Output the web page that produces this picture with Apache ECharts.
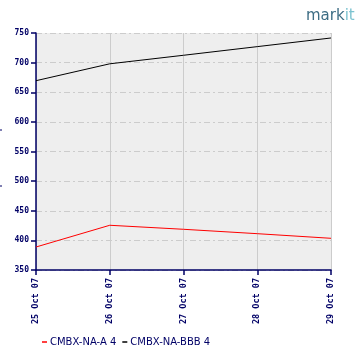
<!DOCTYPE html>
<html><head><meta charset="utf-8">
<script src="https://cdn.jsdelivr.net/npm/echarts@6/dist/echarts.min.js"></script>
<style>html,body{margin:0;padding:0;background:#fff}#c{width:360px;height:360px}</style>
</head><body><div id="c"></div>
<script>
const categories = ['25 Oct 07','26 Oct 07','27 Oct 07','28 Oct 07','29 Oct 07'];
const seriesA = [388.8, 425.5, 418.7, 411.3, 403.5];
const seriesBBB = [669.5, 698, 712.4, 727, 741.6];
const seriesNames = ['CMBX-NA-A 4', 'CMBX-NA-BBB 4'];
const yTicks = {min: 350, max: 750, interval: 50};

const navy = '#000066';
const chart = echarts.init(document.getElementById('c'), null, {renderer: 'canvas'});
chart.setOption({
  animation: false,
  backgroundColor: '#ffffff',
  grid: {left: 36, right: 29, top: 33, bottom: 90, show: true, backgroundColor: '#eeeeee', borderWidth: 0},
  legend: {
    bottom: 8, left: 37,
    icon: 'rect', itemWidth: 5, itemHeight: 1.5, itemGap: 6,
    textStyle: {color: navy, fontFamily: 'DejaVu Sans', fontSize: 10, padding: [0,0,0,-2]},
    data: seriesNames
  },
  graphic: [
    {type: 'text', left: 306, top: 9, style: {
      text: '{a|mark}{b|it}',
      rich: {a: {fill: '#3d6d84', font: '15px "DejaVu Sans"'}, b: {fill: '#7cc3d0', font: '15px "DejaVu Sans"'}}
    }},
    {type: 'line', shape: {x1: 0, y1: 130, x2: 2, y2: 130}, style: {stroke: navy, lineWidth: 1}},
    {type: 'line', shape: {x1: 0, y1: 186, x2: 2, y2: 186}, style: {stroke: navy, lineWidth: 1}}
  ],
  xAxis: {
    type: 'category', data: categories, boundaryGap: false,
    axisLine: {lineStyle: {color: navy, width: 1.5}},
    axisTick: {length: 5, lineStyle: {color: navy, width: 1.5}},
    axisLabel: {rotate: 90, color: navy, fontFamily: 'DejaVu Sans Mono', fontWeight: 'bold', fontSize: 8.5, margin: 8},
    splitLine: {show: true, lineStyle: {color: '#cccccc', width: 1}}
  },
  yAxis: {
    type: 'value', min: yTicks.min, max: yTicks.max, interval: yTicks.interval,
    axisLine: {show: true, lineStyle: {color: navy, width: 1.5}},
    axisTick: {show: true, length: 5, lineStyle: {color: navy, width: 1.5}},
    axisLabel: {color: navy, fontFamily: 'DejaVu Sans Mono', fontWeight: 'bold', fontSize: 8, margin: 7},
    splitLine: {show: true, lineStyle: {color: '#cccccc', width: 1, type: [6, 3, 2, 3]}}
  },
  series: [
    {name: seriesNames[0], type: 'line', data: seriesA, showSymbol: false, symbol: 'none',
     itemStyle: {color: '#ff0000'}, lineStyle: {color: '#ff0000', width: 1}},
    {name: seriesNames[1], type: 'line', data: seriesBBB, showSymbol: false, symbol: 'none',
     itemStyle: {color: '#000000'}, lineStyle: {color: '#000000', width: 1}}
  ]
});
</script></body></html>
